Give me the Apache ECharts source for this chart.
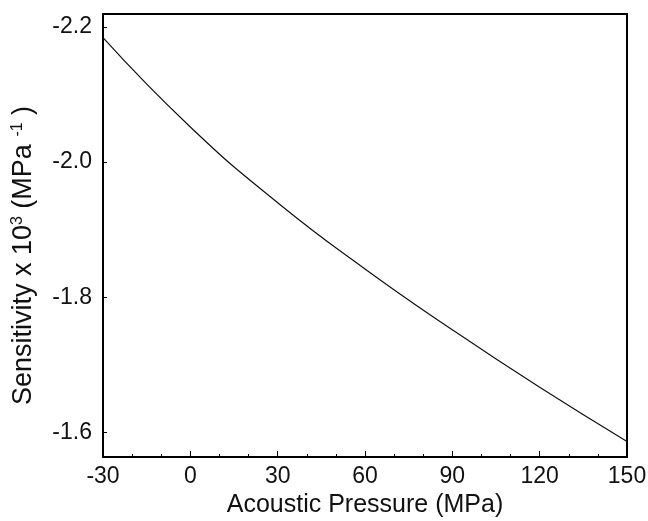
<!DOCTYPE html>
<html>
<head>
<meta charset="utf-8">
<script src="https://cdn.jsdelivr.net/npm/echarts@6/dist/echarts.min.js"></script>
<style>
  html, body { margin: 0; padding: 0; background: #fff; }
  #chart { width: 648px; height: 521px; }
</style>
</head>
<body>
<div id="chart"></div>
<script>
// pressure (MPa) and sensitivity x 10^3
const pressure = [-30, 0, 30, 60, 90, 120, 150];
const sensitivity = [-2.184, -2.052, -1.940, -1.842, -1.752, -1.667, -1.587];
const yTicks = [-2.2, -2.0, -1.8, -1.6];

const chart = echarts.init(document.getElementById("chart"));
const font = "'Liberation Sans', Arial, sans-serif";

const option = {
  animation: false,
  grid: {
    left: 103,
    right: 21,
    top: 14,
    bottom: 64,
    outerBoundsMode: "none",
    show: true,
    borderColor: "#000",
    borderWidth: 2,
  },
  xAxis: {
    type: "value",
    min: -30,
    max: 150,
    interval: 30,
    name: "Acoustic Pressure (MPa)",
    nameLocation: "middle",
    nameGap: 36,
    nameTextStyle: { fontFamily: font, fontSize: 25, color: "#111" },
    axisLine: { show: true, onZero: false, lineStyle: { color: "#000", width: 2 } },
    axisTick: { inside: true, length: 6, lineStyle: { color: "#000" } },
    minorTick: { show: true, splitNumber: 3, length: 3, lineStyle: { color: "#000" } },
    splitLine: { show: false },
    axisLabel: { fontFamily: font, fontSize: 23, color: "#111", margin: 8 },
  },
  yAxis: {
    type: "value",
    inverse: true,
    min: -2.219,
    max: -1.564,
    name: "Sensitivity x 10{sup|3} (MPa {sup|-1} )",
    nameLocation: "middle",
    nameRotate: 90,
    nameGap: 66,
    nameTextStyle: {
      fontFamily: font,
      fontSize: 27,
      color: "#111",
      padding: [0, 40, 0, 0],
      rich: {
        sup: { fontFamily: font, fontSize: 16, color: "#111", verticalAlign: "top", lineHeight: 17 },
      },
    },
    axisLine: { show: true, onZero: false, lineStyle: { color: "#000", width: 2 } },
    axisTick: { show: true, inside: true, length: 4, customValues: yTicks, lineStyle: { color: "#000" } },
    splitLine: { show: false },
    axisLabel: {
      fontFamily: font,
      fontSize: 23,
      color: "#111",
      margin: 11,
      customValues: yTicks,
      formatter: (v) => v.toFixed(1),
    },
  },
  series: [
    {
      type: "line",
      data: pressure.map((p, i) => [p, sensitivity[i]]),
      smooth: true,
      showSymbol: false,
      lineStyle: { color: "#111", width: 1.2 },
    },
  ],
};

chart.setOption(option);
</script>
</body>
</html>
